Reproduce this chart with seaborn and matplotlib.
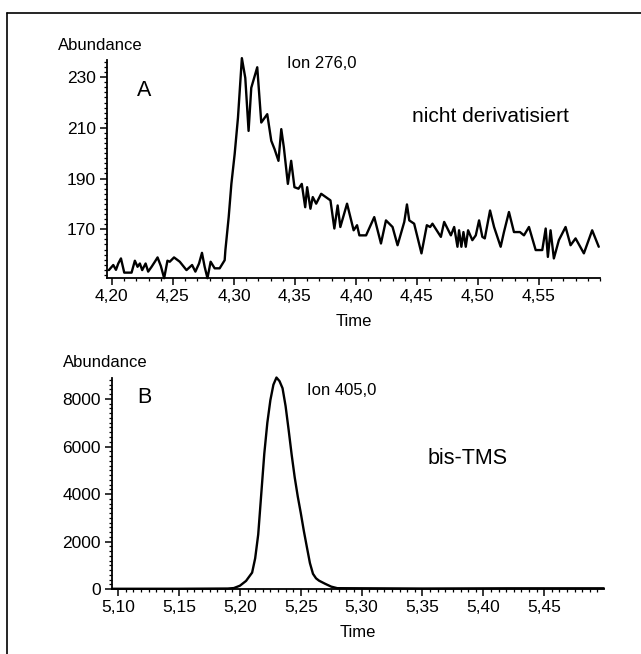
import numpy as np
import pandas as pd
import matplotlib.pyplot as plt
import seaborn as sns
from matplotlib.ticker import FuncFormatter, MultipleLocator
from matplotlib.lines import Line2D

sns.set_theme(style='ticks')
plt.rcParams['font.family'] = ['Liberation Sans', 'DejaVu Sans']
plt.rcParams['text.color'] = 'black'
plt.rcParams['axes.labelcolor'] = 'black'

# A: Ion 276,0 (nicht derivatisiert)
time_a = [4.1975, 4.2011, 4.2033, 4.2052, 4.2074, 4.2101, 4.2161, 4.2188, 4.2210, 4.2229,
          4.2248, 4.2276, 4.2297, 4.2325, 4.2352, 4.2374, 4.2401, 4.2428, 4.2455, 4.2474,
          4.2509, 4.2556, 4.2611, 4.2657, 4.2684, 4.2714, 4.2738, 4.2760, 4.2783, 4.2809,
          4.2842, 4.2883, 4.2924, 4.2930, 4.2957, 4.2979, 4.3006, 4.3033, 4.3065, 4.3093,
          4.3120, 4.3142, 4.3191, 4.3224, 4.3273, 4.3306, 4.3333, 4.3365, 4.3388, 4.3409,
          4.3442, 4.3469, 4.3496, 4.3529, 4.3556, 4.3584, 4.3600, 4.3627, 4.3646, 4.3674,
          4.3715, 4.3791, 4.3823, 4.3850, 4.3872, 4.3927, 4.3981, 4.4009, 4.4028, 4.4083,
          4.4150, 4.4205, 4.4246, 4.4300, 4.4341, 4.4396, 4.4418, 4.4437, 4.4477, 4.4537,
          4.4581, 4.4608, 4.4627, 4.4696, 4.4723, 4.4778, 4.4805, 4.4832, 4.4845, 4.4864,
          4.4881, 4.4900, 4.4919, 4.4954, 4.4982, 4.5009, 4.5036, 4.5056, 4.5099, 4.5132,
          4.5186, 4.5213, 4.5254, 4.5295, 4.5344, 4.5377, 4.5418, 4.5473, 4.5527, 4.5555,
          4.5573, 4.5595, 4.5622, 4.5663, 4.5718, 4.5759, 4.5800, 4.5868, 4.5936, 4.5990]
abund_a = [153.9, 155.9, 154.0, 156.5, 158.5, 152.9, 152.9, 157.6, 155.2, 156.5,
           153.9, 156.5, 153.3, 155.2, 157.2, 158.9, 155.5, 150.7, 157.6, 157.2,
           158.9, 157.2, 153.9, 155.9, 153.3, 156.5, 160.7, 155.2, 150.7, 157.2,
           154.6, 154.6, 157.8, 161.8, 174.8, 187.9, 199.7, 214.0, 237.5, 229.7,
           208.8, 225.8, 233.9, 212.1, 215.4, 204.9, 201.6, 197.0, 209.5, 202.3,
           187.9, 197.0, 186.6, 186.0, 187.9, 178.7, 186.6, 178.1, 182.7, 180.1,
           184.0, 181.4, 170.3, 179.4, 170.9, 180.1, 169.6, 171.6, 167.6, 167.6,
           174.8, 164.4, 173.5, 170.9, 163.7, 172.9, 179.8, 173.5, 172.2, 160.5,
           171.6, 170.9, 172.2, 167.0, 172.9, 167.6, 170.9, 163.1, 169.6, 163.1,
           168.9, 163.1, 169.6, 165.7, 167.6, 173.5, 167.0, 166.4, 177.4, 170.9,
           163.1, 168.9, 176.8, 168.9, 168.9, 167.6, 170.9, 161.8, 161.8, 170.3,
           159.1, 169.6, 158.5, 165.7, 170.9, 163.7, 166.4, 160.5, 169.6, 163.1]

# B: Ion 405,0 (bis-TMS)
time_b = [5.095, 5.150, 5.190, 5.195, 5.200, 5.205, 5.210, 5.2125, 5.215, 5.2175,
          5.220, 5.2225, 5.225, 5.2275, 5.230, 5.2325, 5.235, 5.2375, 5.240, 5.2425,
          5.245, 5.2475, 5.250, 5.2525, 5.255, 5.2575, 5.260, 5.2625, 5.265, 5.270,
          5.275, 5.280, 5.350, 5.420, 5.499]
abund_b = [20, 20, 30, 50, 150, 350, 700, 1300, 2300, 4000,
           5700, 7000, 7950, 8600, 8900, 8750, 8450, 7700, 6700, 5650,
           4700, 3900, 3200, 2450, 1770, 1100, 650, 460, 360, 230,
           110, 45, 30, 40, 40]

df_a = pd.DataFrame({'Time': time_a, 'Abundance': abund_a})
df_b = pd.DataFrame({'Time': time_b, 'Abundance': abund_b})

fig = plt.figure(figsize=(6.41, 6.54), dpi=100)
ax1 = fig.add_axes([0.167, 0.575, 0.769, 0.333])
ax2 = fig.add_axes([0.175, 0.099, 0.767, 0.323])

comma = FuncFormatter(lambda v, p: ('%.2f' % v).replace('.', ','))

sns.lineplot(data=df_a, x='Time', y='Abundance', ax=ax1, color='black', lw=1.7,
             estimator=None, sort=False, clip_on=False)
sns.lineplot(data=df_b, x='Time', y='Abundance', ax=ax2, color='black', lw=1.7,
             estimator=None, sort=False, clip_on=False)

ax1.set_xlim(4.196, 4.600)
ax1.set_ylim(150.8, 236.7)
ax1.set_xticks([4.20, 4.25, 4.30, 4.35, 4.40, 4.45, 4.50, 4.55])
ax1.set_yticks([170, 190, 210, 230])
ax1.xaxis.set_minor_locator(MultipleLocator(0.01))
ax1.yaxis.set_minor_locator(MultipleLocator(2))

ax2.set_xlim(5.095, 5.499)
ax2.set_ylim(0, 8880)
ax2.set_xticks([5.10, 5.15, 5.20, 5.25, 5.30, 5.35, 5.40, 5.45])
ax2.set_yticks([0, 2000, 4000, 6000, 8000])
ax2.xaxis.set_minor_locator(MultipleLocator(0.00625))
ax2.yaxis.set_minor_locator(MultipleLocator(200))

for ax in (ax1, ax2):
    sns.despine(ax=ax)
    ax.set_facecolor('white')
    ax.xaxis.set_major_formatter(comma)
    ax.spines['left'].set_linewidth(1.3)
    ax.spines['bottom'].set_linewidth(1.3)
    ax.spines['left'].set_color('black')
    ax.spines['bottom'].set_color('black')
    ax.tick_params(axis='both', which='major', length=5, width=1.1, labelsize=12.5,
                   color='black', labelcolor='black', pad=3)
    ax.tick_params(axis='both', which='minor', length=2.5, width=0.9, color='black')
    ax.set_ylabel('')
    ax.set_xlabel('Time', fontsize=12, labelpad=7)

fig.text(0.090, 0.931, 'Abundance', fontsize=12, ha='left', va='center')
fig.text(0.098, 0.445, 'Abundance', fontsize=12, ha='left', va='center')

ax1.text(0.06, 0.86, 'A', transform=ax1.transAxes, fontsize=15.5, ha='left', va='center')
ax1.text(0.365, 0.985, 'Ion 276,0', transform=ax1.transAxes, fontsize=12,
         ha='left', va='center')
ax1.text(0.777, 0.74, 'nicht derivatisiert', transform=ax1.transAxes, fontsize=15,
         ha='center', va='center')

ax2.text(0.05, 0.91, 'B', transform=ax2.transAxes, fontsize=15.5, ha='left', va='center')
ax2.text(0.396, 0.94, 'Ion 405,0', transform=ax2.transAxes, fontsize=12,
         ha='left', va='center')
ax2.text(0.722, 0.62, 'bis-TMS', transform=ax2.transAxes, fontsize=15.5,
         ha='center', va='center')

# outer frame of the scanned page
fig.add_artist(Line2D([0.011, 1.0], [0.980, 0.980], color='black', lw=1.2))
fig.add_artist(Line2D([0.011, 0.011], [0.0, 0.980], color='black', lw=1.2))

fig.savefig('out.png', dpi=100, facecolor='white')
